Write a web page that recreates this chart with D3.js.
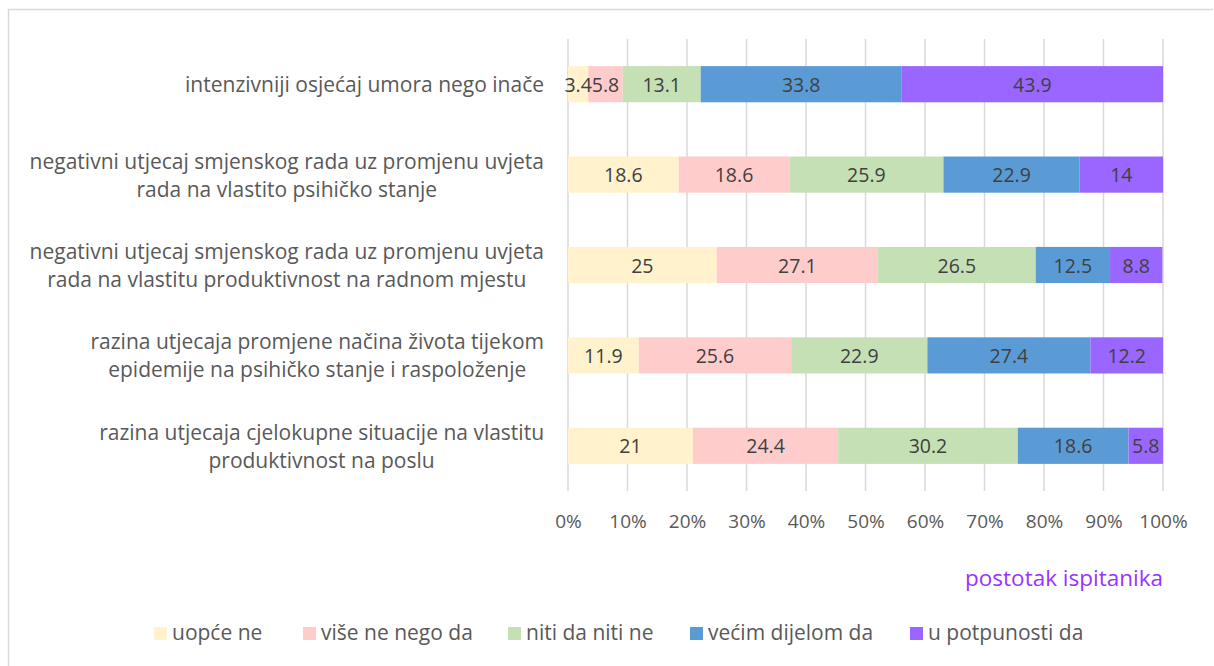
<!DOCTYPE html>
<html><head><meta charset="utf-8">
<script src="https://cdn.jsdelivr.net/npm/d3@7"></script>
<style>body{margin:0;background:#fff}svg{display:block}</style>
</head><body>
<svg id="c" width="1214" height="666"></svg>
<script>
const categories = [
  ["intenzivniji osjećaj umora nego inače"],
  ["negativni utjecaj smjenskog rada uz promjenu uvjeta","rada na vlastito psihičko stanje"],
  ["negativni utjecaj smjenskog rada uz promjenu uvjeta","rada na vlastitu produktivnost na radnom mjestu"],
  ["razina utjecaja promjene načina života tijekom","epidemije na psihičko stanje i raspoloženje"],
  ["razina utjecaja cjelokupne situacije na vlastitu","produktivnost na poslu"]
];
const seriesNames = ["uopće ne","više ne nego da","niti da niti ne","većim dijelom da","u potpunosti da"];
const uopceNe     = [3.4, 18.6, 25, 11.9, 21];
const viseNe      = [5.8, 18.6, 27.1, 25.6, 24.4];
const nitiDa      = [13.1, 25.9, 26.5, 22.9, 30.2];
const vecimDa     = [33.8, 22.9, 12.5, 27.4, 18.6];
const potpunostiDa= [43.9, 14, 8.8, 12.2, 5.8];
const ticks = [0,10,20,30,40,50,60,70,80,90,100];
const axisTitle = "postotak ispitanika";
const colors = ["#FFF2CC","#FFCCCC","#C5E0B4","#5B9BD5","#9966FF"];

const series = [uopceNe, viseNe, nitiDa, vecimDa, potpunostiDa];
const svg = d3.select("#c");
const FONT = "'Open Sans', sans-serif";
const L = 568, R = 1163, T = 39, B = 491;

svg.append("path").attr("d", `M8.5,666 V9.5 H1213`).attr("fill","none").attr("stroke","#d9d9d9").attr("stroke-width",1.5);

const x = d3.scaleLinear().domain([0,100]).range([L,R]);
const y = d3.scaleBand().domain(d3.range(categories.length)).range([T,B]).paddingInner(0.6).paddingOuter(0.3);

svg.append("g").selectAll("line").data(ticks).join("line")
  .attr("x1", d=>x(d)).attr("x2", d=>x(d)).attr("y1", T).attr("y2", B)
  .attr("stroke","#d9d9d9").attr("stroke-width",1.5);

const rows = categories.map((c,i)=>{
  let acc = 0;
  return series.map((s,k)=>{ const seg = {i,k,v:s[i],x0:acc,x1:acc+s[i]}; acc += s[i]; return seg; });
}).flat();

const g = svg.append("g");
g.selectAll("rect").data(rows).join("rect")
  .attr("x", d=>x(d.x0)).attr("width", d=>x(d.x1)-x(d.x0))
  .attr("y", d=>y(d.i)).attr("height", y.bandwidth())
  .attr("fill", d=>colors[d.k]);
g.selectAll("text").data(rows).join("text")
  .attr("x", d=>(x(d.x0)+x(d.x1))/2).attr("y", d=>y(d.i)+y.bandwidth()/2)
  .attr("text-anchor","middle").attr("dominant-baseline","central")
  .attr("font-family",FONT).attr("font-size",19.5).attr("fill","#404040")
  .text(d=>String(d.v));

const lab = svg.append("g");
categories.forEach((lines,i)=>{
  const cy = y(i)+y.bandwidth()/2;
  const t = lab.append("text").attr("font-family",FONT).attr("font-size",21).attr("fill","#595959")
    .attr("text-anchor","middle");
  const lh = 28;
  lines.forEach((ln,j)=>{
    t.append("tspan").attr("x",0).attr("y", cy + (j-(lines.length-1)/2)*lh).attr("dominant-baseline","central").text(ln);
  });
  const w = t.node().getBBox().width;
  t.attr("transform", `translate(${544 - w/2},0)`);
});

const ax = svg.append("g").attr("transform",`translate(0,${B})`)
  .call(d3.axisBottom(x).tickValues(ticks).tickFormat(d=>d+"%").tickSize(0).tickPadding(24));
ax.select(".domain").remove();
ax.selectAll("text").attr("font-family",FONT).attr("font-size",19).attr("fill","#595959");

svg.append("text").attr("x",R).attr("y",577).attr("text-anchor","end").attr("dominant-baseline","central")
  .attr("font-family",FONT).attr("font-size",22.5).attr("fill","#9933FF").text(axisTitle);

const legX = [154, 303, 508, 690, 910];
const lg = svg.append("g");
seriesNames.forEach((n,k)=>{
  lg.append("rect").attr("x",legX[k]).attr("y",627).attr("width",13).attr("height",13).attr("fill",colors[k]);
  lg.append("text").attr("x",legX[k]+18).attr("y",632).attr("dominant-baseline","central")
    .attr("font-family",FONT).attr("font-size",21).attr("fill","#595959").text(n);
});
</script>
</body></html>
